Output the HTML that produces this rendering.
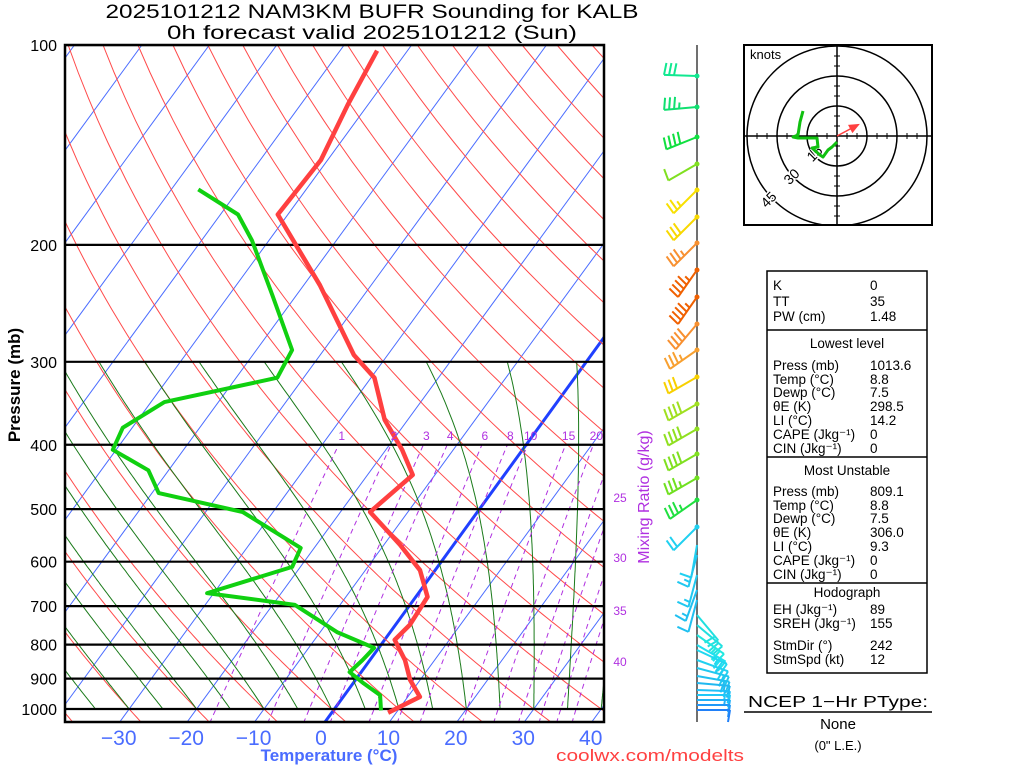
<!DOCTYPE html>
<html><head><meta charset="utf-8"><title>NAM3KM BUFR Sounding KALB</title>
<style>
html,body{margin:0;padding:0;background:#fff;}
svg{display:block;font-family:"Liberation Sans",sans-serif;}
</style></head>
<body>
<svg id="chart" width="1024" height="768" viewBox="0 0 1024 768">
<defs><clipPath id="plotclip"><rect x="65" y="45" width="539" height="677"/></clipPath></defs>
<text x="372" y="18" text-anchor="middle" font-size="19" textLength="533" lengthAdjust="spacingAndGlyphs">2025101212 NAM3KM BUFR Sounding for KALB</text>
<text x="372" y="39" text-anchor="middle" font-size="19" textLength="410" lengthAdjust="spacingAndGlyphs">0h forecast valid 2025101212 (Sun)</text>
<g id="grid" clip-path="url(#plotclip)"></g>
<g id="profiles" clip-path="url(#plotclip)"></g>
<g id="axes"></g>
<g id="winds"></g>
<g id="hodo"></g>
<g id="table"></g>
</svg>
<script>
// ---- data ----
const pressureTicks = [100,200,300,400,500,600,700,800,900,1000];
const tempTicks = [-30,-20,-10,0,10,20,30,40];
const mixRatios = [1,2,3,4,6,8,10,15,20,25,30,35,40];
const tempPres = [1013,959,904,844,787,747,678,618,566,505,444,407,367,317,293,230,180,149,123,102];
const tempVals = [8.8,11.8,8.5,5.6,1.9,2.5,2.1,-1.9,-7.6,-15.6,-13.3,-17.6,-23.4,-29.5,-35,-47.6,-61.5,-61,-63,-64.5];
const dewPres = [1005,953,915,880,844,809,766,697,669,611,572,505,473,437,407,377,345,317,288,238,197,180,165];
const dewVals = [7.5,5.7,2,-1.3,-0.7,-0.3,-7.5,-16.7,-31,-21.2,-22,-34.5,-49,-53,-60.5,-61.4,-58,-43.9,-44.7,-53.6,-62.5,-67.4,-76];
const windY = [76,107,137,164,190,217,243,270,297,324,350,377,404,429,454,478,500,527,545,555,575,590,600,615,625,635,645,650,660,668,676,683,690,695,700,705,710];
const windDir = [272,265,248,240,225,225,225,215,215,220,235,240,240,240,240,240,235,225,190,195,195,200,195,140,130,125,120,115,110,105,100,95,92,90,90,90,90];
const windSpd = [30,35,40,10,25,30,35,45,45,40,35,30,40,40,40,35,35,20,10,15,15,15,10,20,20,25,25,25,25,20,20,15,15,15,15,10,10];
const windCol = ['#10e890','#10e070','#10e040','#80e020','#f8e000','#f8d800','#f89030','#f06000','#f06000','#f89030','#f8a030','#f8d000','#a0e020','#90e020','#80e020','#70e020','#20e040','#20d0f0','#20d0f0','#20c8f0','#20c8f0','#20c0f0','#20c0f0','#20e0e0','#20e0e0','#20e8e0','#20e0f0','#20d8f0','#20d0f0','#20c8f0','#20c0f0','#20b8f0','#20c0f8','#20c8f8','#20b0f8','#2098f8','#2080f8'];
const hodoU = [-17,-18.5,-19.5,-22,-19.5,-10,-9.5,-12.5,-8.5,-7,-4.5,-2.5,0];
const hodoV = [12.5,7,0.5,-0.5,-1,-1,-5.5,-6,-9.5,-10.5,-7,-5.5,-3];
const stormDir = [242];
const stormSpd = [12];

const NS='http://www.w3.org/2000/svg';
function mk(tag, attrs, parent){const e=document.createElementNS(NS,tag);for(const k in attrs)e.setAttribute(k,attrs[k]);parent.appendChild(e);return e;}
function Y(p){return 45+664*Math.log10(p/100);}
function X(T,p){return 322+6.743*T+0.73*(722-Y(p));}
function es(Tc){return 6.112*Math.exp(17.67*Tc/(Tc+243.5));}

const grid=document.getElementById('grid');
for(let T=-160;T<=50;T+=10){
  const l=mk('line',{x1:X(T,1050)+(T===0?3:0),y1:Y(1050),x2:X(T,100),y2:Y(100),stroke:T===0?'#2040ff':'#4a6cff','stroke-width':T===0?3:1},grid);
  
  
}
for(let th=-40;th<=220;th+=10){
  let pts=[];
  for(let p=1050;p>=100;p-=10){const Tk=(th+273.15)*Math.pow(p/1000,0.2857);pts.push(X(Tk-273.15,p).toFixed(1)+','+Y(p).toFixed(1));}
  const l=mk('polyline',{points:pts.join(' '),fill:'none',stroke:'#ff4a4a','stroke-width':1},grid);
  
  
}
for(let tw=-45;tw<=40;tw+=5){
  let T=tw+273.15,pts=[];
  for(let p=1000;p>=300;p-=5){
    pts.push(X(T-273.15,p).toFixed(1)+','+Y(p).toFixed(1));
    const e=es(T-273.15),rs=0.622*e/(p-e);
    const dTdp=(1/p)*(287*T+2.5e6*rs)/(1004+(2.5e6*2.5e6*rs*0.622)/(287*T*T));
    T-=dTdp*5;
  }
  const l=mk('polyline',{points:pts.join(' '),fill:'none',stroke:'#1a7a1a','stroke-width':1},grid);
  
  
}
function tdw(w,p){const e=w*p/(622+w);const a=Math.log(e/6.112);return 243.5*a/(17.67-a);}
mixRatios.forEach(w=>{
  let pts=[];
  for(let p=1050;p>=400;p-=10)pts.push(X(tdw(w,p),p).toFixed(1)+','+Y(p).toFixed(1));
  const l=mk('polyline',{points:pts.join(' '),fill:'none',stroke:'#b030e0','stroke-width':1,'stroke-dasharray':'5,4'},grid);
  
  
});
pressureTicks.forEach(p=>{
  const l=mk('line',{x1:65,x2:604,y1:Y(p),y2:Y(p),stroke:'#000','stroke-width':2.2},grid);
  
  
});

const prof=document.getElementById('profiles');
const tl=mk('polyline',{points:tempPres.map((p,i)=>X(tempVals[i],p).toFixed(1)+','+Y(p).toFixed(1)).join(' '),fill:'none',stroke:'#ff4040','stroke-width':4.5,'stroke-linejoin':'round'},prof);


const dl=mk('polyline',{points:dewPres.map((p,i)=>X(dewVals[i],p).toFixed(1)+','+Y(p).toFixed(1)).join(' '),fill:'none',stroke:'#10d010','stroke-width':4,'stroke-linejoin':'round'},prof);



const ax=document.getElementById('axes');
const fr=mk('rect',{x:65,y:45,width:539,height:677,fill:'none',stroke:'#000','stroke-width':2.5},ax);


pressureTicks.forEach(p=>{
  const t=mk('text',{x:57,y:Y(p)+6,'text-anchor':'end','font-size':16},ax);t.textContent=p;
  
  
});
tempTicks.forEach(T=>{
  const t=mk('text',{x:321+6.743*T,y:745,'text-anchor':'middle','font-size':21,fill:'#4a6cff'},ax);t.textContent=(T<0?'\u2212':'')+Math.abs(T);
  
  
});
mixRatios.forEach(w=>{
  let t;
  if(w<=20){t=mk('text',{x:X(tdw(w,400),400)+3,y:440,'text-anchor':'middle','font-size':12,fill:'#b030e0'},ax);}
  else{const yy={25:502,30:562,35:615,40:666}[w];t=mk('text',{x:620,y:yy,'text-anchor':'middle','font-size':12,fill:'#b030e0'},ax);}
  t.textContent=w;
  
  
});
let t1=mk('text',{x:0,y:0,'text-anchor':'middle','font-size':17,'font-weight':'bold',transform:'translate(20,385) rotate(-90)'},ax);t1.textContent='Pressure (mb)';


let t2=mk('text',{x:329,y:761,'text-anchor':'middle','font-size':17,'font-weight':'bold',fill:'#4a6cff'},ax);t2.textContent='Temperature (\u00b0C)';


let t3=mk('text',{x:650,y:761,'text-anchor':'middle','font-size':17,fill:'#ff4040',textLength:188,lengthAdjust:'spacingAndGlyphs'},ax);t3.textContent='coolwx.com/modelts';


let t4=mk('text',{x:0,y:0,'text-anchor':'middle','font-size':16,fill:'#b030e0',transform:'translate(649,497) rotate(-90)'},ax);t4.textContent='Mixing Ratio (g/kg)';



const wg=document.getElementById('winds');
const staff=mk('line',{x1:697,x2:697,y1:45,y2:722,stroke:'#707070','stroke-width':2},wg);


windY.forEach((y,i)=>{
  const d=windDir[i]*Math.PI/180,ux=Math.sin(d),uy=-Math.cos(d),L=33;
  const g=mk('g',{stroke:windCol[i],fill:windCol[i],'stroke-width':2},wg);
  
  
  mk('line',{x1:697,y1:y,x2:697+ux*L,y2:y+uy*L},g);
  if(i<18){mk('circle',{cx:697,cy:y,r:2.5,stroke:'none'},g);}
  let s=Math.round(windSpd[i]/5)*5,pos=0;const fx=-uy,fy=ux;
  while(s>=50){const bx=697+ux*(L-pos),by=y+uy*(L-pos);
    mk('polygon',{points:`${bx},${by} ${bx+fx*12},${by+fy*12} ${bx-ux*6},${by-uy*6}`},g);pos+=8;s-=50;}
  while(s>=10){const bx=697+ux*(L-pos),by=y+uy*(L-pos);
    mk('line',{x1:bx,y1:by,x2:bx+fx*12-ux*2,y2:by+fy*12-uy*2},g);pos+=5;s-=10;}
  if(s>=5){if(pos===0)pos=5;const bx=697+ux*(L-pos),by=y+uy*(L-pos);
    mk('line',{x1:bx,y1:by,x2:bx+fx*6-ux*1,y2:by+fy*6-uy*1},g);}
});

const hg=document.getElementById('hodo');
const cx=837,cy=136,k=2;
const hb=mk('rect',{x:744,y:45,width:188,height:180,fill:'#fff',stroke:'#000','stroke-width':2},hg);


const hcg=mk('g',{},hg);
mk('clipPath',{id:'hclip'},hcg).appendChild(document.createElementNS(NS,'rect'));
const hcr=document.querySelector('#hclip rect');hcr.setAttribute('x',745);hcr.setAttribute('y',46);hcr.setAttribute('width',186);hcr.setAttribute('height',178);
const hin=mk('g',{'clip-path':'url(#hclip)'},hg);
[15,30,45].forEach(r=>{const c=mk('circle',{cx:cx,cy:cy,r:r*k,fill:'none',stroke:'#000','stroke-width':1.5},hin);
  
  });
mk('line',{x1:745,x2:931,y1:cy,y2:cy,stroke:'#000','stroke-width':1.5},hin);
mk('line',{x1:cx,x2:cx,y1:46,y2:224,stroke:'#000','stroke-width':1.5},hin);
for(let v=-45;v<=45;v+=5){if(v===0)continue;
  mk('line',{x1:cx+v*k,x2:cx+v*k,y1:cy-3,y2:cy+3,stroke:'#000'},hin);
  mk('line',{y1:cy+v*k,y2:cy+v*k,x1:cx-3,x2:cx+3,stroke:'#000'},hin);}
[[15,818,157],[30,795,180],[45,772,203]].forEach(a=>{const t=mk('text',{x:a[1],y:a[2],'font-size':14,'text-anchor':'middle',transform:`rotate(-45 ${a[1]} ${a[2]})`,fill:'#000',stroke:'#fff','stroke-width':3,'paint-order':'stroke'},hin);t.textContent=a[0];
  
  });
const hk=mk('text',{x:750,y:59,'font-size':13},hg);hk.textContent='knots';


const hl=mk('polyline',{points:hodoU.map((u,i)=>(cx+u*k)+','+(cy-hodoV[i]*k)).join(' '),fill:'none',stroke:'#10c010','stroke-width':3,'stroke-linejoin':'round'},hin);


const sd=(stormDir[0]+180)*Math.PI/180,sx=cx+stormSpd[0]*k*Math.sin(sd),sy=cy-stormSpd[0]*k*Math.cos(sd);
const sm=mk('g',{stroke:'#ff4040',fill:'#ff4040','stroke-width':1.5},hin);


mk('line',{x1:cx,y1:cy,x2:sx,y2:sy},sm);
const ang=Math.atan2(sy-cy,sx-cx);
mk('polygon',{points:`${sx},${sy} ${sx-9*Math.cos(ang-0.4)},${sy-9*Math.sin(ang-0.4)} ${sx-9*Math.cos(ang+0.4)},${sy-9*Math.sin(ang+0.4)}`},sm);

const tb=document.getElementById('table');
const box=mk('rect',{x:767,y:271,width:160,height:402,fill:'none',stroke:'#000','stroke-width':1.5},tb);


[330,457,583].forEach(y=>{const l=mk('line',{x1:767,x2:927,y1:y,y2:y,stroke:'#000','stroke-width':1.5},tb);
  
  });
const rows=[['K','0',290],['TT','35',306],['PW (cm)','1.48',321],
['Press (mb)','1013.6',370],['Temp (\u00b0C)','8.8',384],['Dewp (\u00b0C)','7.5',397],['\u03b8E (K)','298.5',411],['LI (\u00b0C)','14.2',425],['CAPE (Jkg\u207b\u00b9)','0',439],['CIN (Jkg\u207b\u00b9)','0',453],
['Press (mb)','809.1',496],['Temp (\u00b0C)','8.8',510],['Dewp (\u00b0C)','7.5',523],['\u03b8E (K)','306.0',537],['LI (\u00b0C)','9.3',551],['CAPE (Jkg\u207b\u00b9)','0',565],['CIN (Jkg\u207b\u00b9)','0',579],
['EH (Jkg\u207b\u00b9)','89',614],['SREH (Jkg\u207b\u00b9)','155',628],['StmDir (\u00b0)','242',650],['StmSpd (kt)','12',664]];
rows.forEach(r=>{
  const a=mk('text',{x:773,y:r[2],'font-size':13.5},tb);a.textContent=r[0];
  
  
  const b=mk('text',{x:870,y:r[2],'font-size':13.5},tb);b.textContent=r[1];
  
  
});
[['Lowest level',348],['Most Unstable',475],['Hodograph',597]].forEach(h=>{
  const t=mk('text',{x:847,y:h[1],'font-size':13.5,'text-anchor':'middle'},tb);t.textContent=h[0];
  
  
});
const p1=mk('text',{x:838,y:707,'font-size':16,'text-anchor':'middle',textLength:180,lengthAdjust:'spacingAndGlyphs'},tb);p1.textContent='NCEP 1\u2212Hr PType:';


const pl=mk('line',{x1:744,x2:932,y1:712,y2:712,stroke:'#000','stroke-width':1.5},tb);


const p2=mk('text',{x:838,y:729,'font-size':15,'text-anchor':'middle'},tb);p2.textContent='None';


const p3=mk('text',{x:838,y:750,'font-size':13,'text-anchor':'middle'},tb);p3.textContent='(0" L.E.)';


</script>
</body></html>
